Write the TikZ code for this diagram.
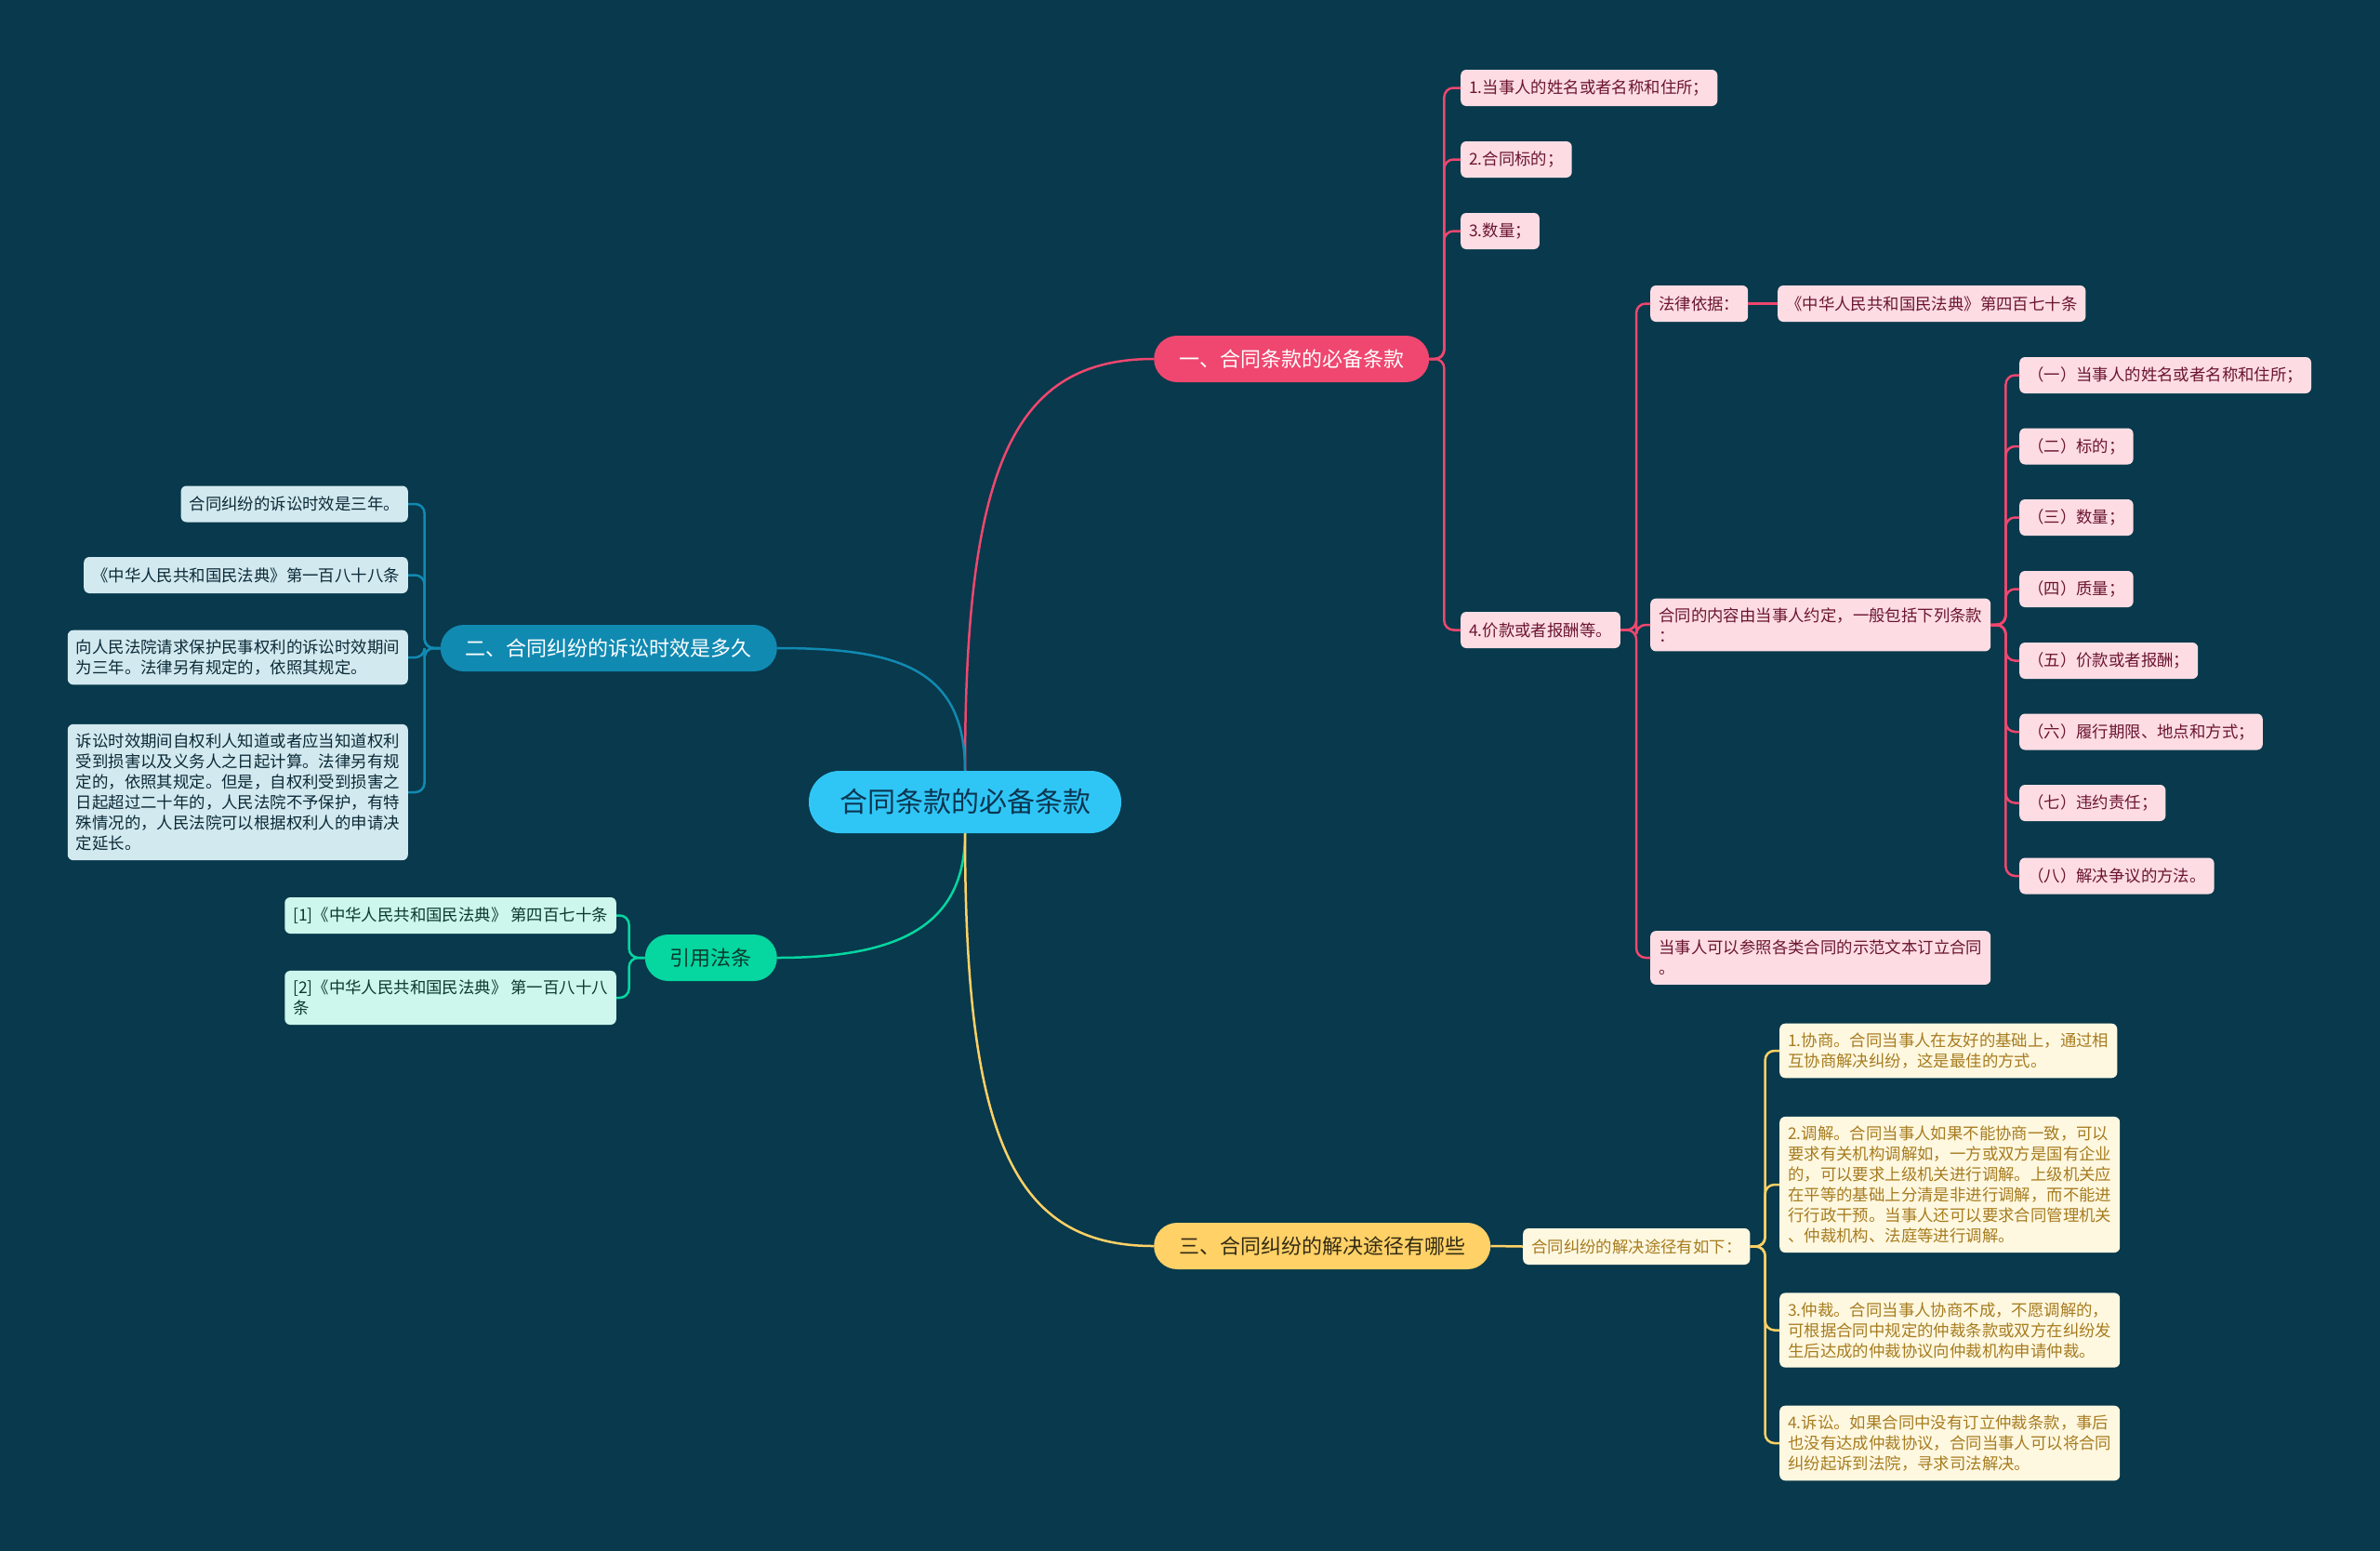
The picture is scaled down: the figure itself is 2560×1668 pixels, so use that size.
\documentclass[tikz,border=0pt]{standalone}
\usepackage{fontspec}
\setmainfont{Noto Sans CJK SC}
\usetikzlibrary{calc}
\definecolor{bg}{HTML}{08394C}
\definecolor{rootc}{HTML}{2FC6F6}
\definecolor{roottext}{HTML}{0B3550}
\definecolor{redc}{HTML}{EF476F}
\definecolor{bluec}{HTML}{118AB2}
\definecolor{greenc}{HTML}{06D6A0}
\definecolor{yellowc}{HTML}{FFD166}
\definecolor{pinkfill}{HTML}{FDDDE3}
\definecolor{pinktext}{HTML}{6B1530}
\definecolor{bluefill}{HTML}{D3E9F0}
\definecolor{bluetext}{HTML}{0B2A36}
\definecolor{greenfill}{HTML}{CDF7EC}
\definecolor{greentext}{HTML}{0B3A2E}
\definecolor{yelfill}{HTML}{FFF8E1}
\definecolor{yeltext}{HTML}{A67C1F}
\begin{document}
\begin{tikzpicture}[x=1pt,y=-1pt,
  rootbox/.style={fill=rootc, text=roottext, font=\fontsize{30}{36}\selectfont, rounded corners=33, minimum height=67, inner xsep=33},
  lvl/.style={rounded corners=25, minimum height=50, inner xsep=27, font=\fontsize{22}{26}\selectfont},
  leaf/.style={rounded corners=6, inner xsep=9, inner ysep=10, minimum height=39, align=left, font=\fontsize{17.4}{22}\selectfont},
  pinkleaf/.style={leaf, fill=pinkfill, text=pinktext},
  blueleaf/.style={leaf, fill=bluefill, text=bluetext},
  greenleaf/.style={leaf, fill=greenfill, text=greentext},
  yelleaf/.style={leaf, fill=yelfill, text=yeltext},
  conn/.style={line width=2.5pt, rounded corners=10},
  redline/.style={conn, draw=redc},
  blueline/.style={conn, draw=bluec},
  greenline/.style={conn, draw=greenc},
  yelline/.style={conn, draw=yellowc},
]
\useasboundingbox[fill=bg] (0,0) rectangle (2560,1668);

% root and level 1
\node[rootbox] (root) at (1038,862.5) {合同条款的必备条款};
\node[lvl, fill=redc, text=white, anchor=west] (b1) at (1241,386) {一、合同条款的必备条款};
\node[lvl, fill=bluec, text=white, anchor=east] (b2) at (836,697) {二、合同纠纷的诉讼时效是多久};
\node[lvl, fill=greenc, text=greentext, anchor=east] (b4) at (836,1030) {引用法条};
\node[lvl, fill=yellowc, text=black!80!yellowc, anchor=west] (b3) at (1241,1340) {三、合同纠纷的解决途径有哪些};

\draw[line width=2.5pt, draw=redc] (root.north) .. controls +(0,-330) and +(-150,0) .. (b1.west);
\draw[line width=2.5pt, draw=bluec] (root.north) .. controls +(0,-110) and +(130,0) .. (b2.east);
\draw[line width=2.5pt, draw=greenc] (root.south) .. controls +(0,100) and +(130,0) .. (b4.east);
\draw[line width=2.5pt, draw=yellowc] (root.south) .. controls +(0,330) and +(-150,0) .. (b3.west);

% branch 1
\node[pinkleaf, anchor=west] (a1) at (1571,94.5) {1.当事人的姓名或者名称和住所；};
\node[pinkleaf, anchor=west] (a2) at (1571,171.5) {2.合同标的；};
\node[pinkleaf, anchor=west] (a3) at (1571,248.5) {3.数量；};
\node[pinkleaf, anchor=west] (a4) at (1571,677.5) {4.价款或者报酬等。};
\foreach \n in {a1,a2,a3,a4} \draw[redline] (b1.east) -- ++(16,0) |- (\n.west);

\node[pinkleaf, anchor=west] (f1) at (1775,326.5) {法律依据：};
\node[pinkleaf, anchor=west] (f2) at (1912,326.5) {《中华人民共和国民法典》第四百七十条};
\node[pinkleaf, anchor=west] (g1) at (1775,672) {合同的内容由当事人约定，一般包括下列条款\\：};
\node[pinkleaf, anchor=west] (g2) at (1775,1030) {当事人可以参照各类合同的示范文本订立合同\\。};
\foreach \n in {f1,g1,g2} \draw[redline] (a4.east) -- ++(17,0) |- (\n.west);
\draw[redline] (f1.east) -- (f2.west);

\node[pinkleaf, anchor=west] (k1) at (2172,403.5) {（一）当事人的姓名或者名称和住所；};
\node[pinkleaf, anchor=west] (k2) at (2172,480) {（二）标的；};
\node[pinkleaf, anchor=west] (k3) at (2172,556.5) {（三）数量；};
\node[pinkleaf, anchor=west] (k4) at (2172,633.5) {（四）质量；};
\node[pinkleaf, anchor=west] (k5) at (2172,710.5) {（五）价款或者报酬；};
\node[pinkleaf, anchor=west] (k6) at (2172,787) {（六）履行期限、地点和方式；};
\node[pinkleaf, anchor=west] (k7) at (2172,863.5) {（七）违约责任；};
\node[pinkleaf, anchor=west] (k8) at (2172,942) {（八）解决争议的方法。};
\foreach \n in {k1,k2,k3,k4,k5,k6,k7,k8} \draw[redline] (g1.east) -- ++(16,0) |- (\n.west);

% branch 2
\node[blueleaf, anchor=east] (c1) at (439,542) {合同纠纷的诉讼时效是三年。};
\node[blueleaf, anchor=east] (c2) at (439,618.5) {《中华人民共和国民法典》第一百八十八条};
\node[blueleaf, anchor=east] (c3) at (439,707) {向人民法院请求保护民事权利的诉讼时效期间\\为三年。法律另有规定的，依照其规定。};
\node[blueleaf, anchor=east] (c4) at (439,852) {诉讼时效期间自权利人知道或者应当知道权利\\受到损害以及义务人之日起计算。法律另有规\\定的，依照其规定。但是，自权利受到损害之\\日起超过二十年的，人民法院不予保护，有特\\殊情况的，人民法院可以根据权利人的申请决\\定延长。};
\foreach \n in {c1,c2,c3,c4} \draw[blueline] (b2.west) -- ++(-17,0) |- (\n.east);

% branch cite
\node[greenleaf, anchor=east] (d1) at (663,984.5) {[1]《中华人民共和国民法典》 第四百七十条};
\node[greenleaf, anchor=east] (d2) at (663,1073) {[2]《中华人民共和国民法典》 第一百八十八\\条};
\foreach \n in {d1,d2} \draw[greenline] (b4.west) -- ++(-17,0) |- (\n.east);

% branch 3
\node[yelleaf, anchor=west] (e0) at (1638,1340.5) {合同纠纷的解决途径有如下：};
\draw[yelline] (b3.east) -- (e0.west);
\node[yelleaf, anchor=west] (e1) at (1914,1130) {1.协商。合同当事人在友好的基础上，通过相\\互协商解决纠纷，这是最佳的方式。};
\node[yelleaf, anchor=west] (e2) at (1914,1274) {2.调解。合同当事人如果不能协商一致，可以\\要求有关机构调解如，一方或双方是国有企业\\的，可以要求上级机关进行调解。上级机关应\\在平等的基础上分清是非进行调解，而不能进\\行行政干预。当事人还可以要求合同管理机关\\、仲裁机构、法庭等进行调解。};
\node[yelleaf, anchor=west] (e3) at (1914,1430.5) {3.仲裁。合同当事人协商不成，不愿调解的，\\可根据合同中规定的仲裁条款或双方在纠纷发\\生后达成的仲裁协议向仲裁机构申请仲裁。};
\node[yelleaf, anchor=west] (e4) at (1914,1552) {4.诉讼。如果合同中没有订立仲裁条款，事后\\也没有达成仲裁协议，合同当事人可以将合同\\纠纷起诉到法院，寻求司法解决。};
\foreach \n in {e1,e2,e3,e4} \draw[yelline] (e0.east) -- ++(16,0) |- (\n.west);
\end{tikzpicture}
\end{document}
